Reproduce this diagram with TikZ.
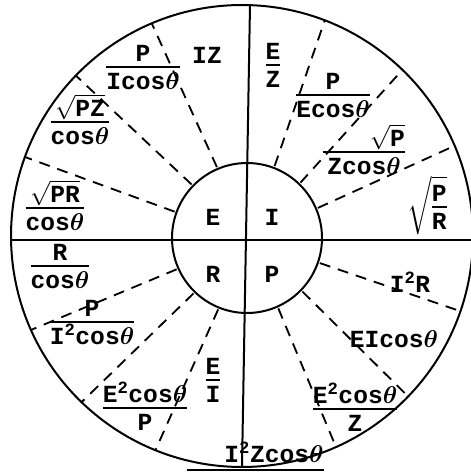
\documentclass[tikz,border=0pt]{standalone}
\usepackage{amsmath}
\usepackage{fontspec}
\setmainfont{Liberation Mono}
\usetikzlibrary{calc}

% stacked typewriter fraction with a heavy bar; baseline = denominator baseline
\newcommand{\typefrac}[2]{%
  \setbox0=\hbox{\rule[-4pt]{0pt}{0pt}#1}\setbox2=\hbox{\rule{0pt}{18.2pt}#2}%
  \dimen0=\wd0 \ifdim\wd2>\dimen0 \dimen0=\wd2 \fi
  \vbox{\hbox to\dimen0{\hss\box0\hss}\hrule height 1.6pt\hbox to\dimen0{\hss\box2\hss}}}
\newcommand{\thet}{$\boldsymbol{\theta}$}

\begin{document}
\begin{tikzpicture}[x=0.3mm, y=-0.3mm,
    rim/.style={line width=0.6mm},
    divider/.style={line width=0.55mm, dash pattern=on 3.3mm off 2.4mm},
    quad/.style={inner sep=0pt, font={\fontsize{21}{24}\selectfont\bfseries}},
    frm/.style={inner sep=0pt, font={\fontsize{21}{24}\selectfont\bfseries}},
    frc/.style={frm, anchor=base, yshift=-19pt}
]
    \path[use as bounding box, fill=white] (0,0) rectangle (470,474);

    % Circles and cross
    \coordinate (O) at (242,236);
    \coordinate (C) at (247,238);
    \coordinate (west) at (11,240);
    \coordinate (east) at (473,240);
    \coordinate (north) at (250,5);
    \coordinate (south) at (242,467);
    \draw[rim] (O) circle[radius=231];
    \draw[rim] (C) circle[radius=75];
    \draw[rim] (west) -- (east);
    \draw[rim] (north) -- (south);

    % Sector dividers
    \foreach \a in {-23,-46,-69,-113,-136,-160,156,134,112,19,44,66}
        \draw[divider] ($(C)+(\a:77)$) -- ($(O)+(\a:231)$);

    % Inner disc
    \node[quad] (e) at (213,217) {E};
    \node[quad] (i) at (272,217) {I};
    \node[quad] (r) at (213,274) {R};
    \node[quad] (p) at (272,274) {P};

    % E quadrant
    \node[frm] (iz) at (207,55) {IZ};
    \node[frc] (pic) at (143,67) {\typefrac{P}{Icos\thet}};
    \node[frc] (pzc) at (80,122) {\typefrac{$\sqrt{\mbox{PZ}}$}{cos\thet}};
    \node[frc] (prc) at (55,208) {\typefrac{$\sqrt{\mbox{PR}}$}{cos\thet}};

    % I quadrant
    \node[frc] (ez) at (273,65) {\typefrac{E}{Z}};
    \node[frc] (pec) at (333,95) {\typefrac{P}{Ecos\thet}};
    \node[frc] (pzcos) at (364,152) {\typefrac{\hspace*{40pt}$\sqrt{\mbox{P}}$}{Zcos\thet}};
    \node[frc] (pr) at (427,207) {$\sqrt{\typefrac{P}{R}}$};

    % R quadrant
    \node[frc] (rc) at (60,266) {\typefrac{R}{cos\thet}};
    \node[frc] (pii) at (92,322) {\typefrac{P}{I\textsuperscript{2}cos\thet}};
    \node[frc] (eep) at (145,408) {\typefrac{E\textsuperscript{2}cos\thet}{P}};
    \node[frc] (ei) at (213,380) {\typefrac{E}{I}};

    % P quadrant
    \node[frm] (iir) at (410,282) {I\textsuperscript{2}R};
    \node[frm] (eic) at (394,339) {EIcos\thet};
    \node[frc] (eez) at (355,409) {\typefrac{E\textsuperscript{2}cos\thet}{Z}};
    \node[frm] (iiz) at (274,452) {I\textsuperscript{2}Zcos\thet};
    \draw[rim] ($(iiz.base west)+(-37,8)$) -- ($(iiz.base east)+(0,8)$);

\end{tikzpicture}
\end{document}
